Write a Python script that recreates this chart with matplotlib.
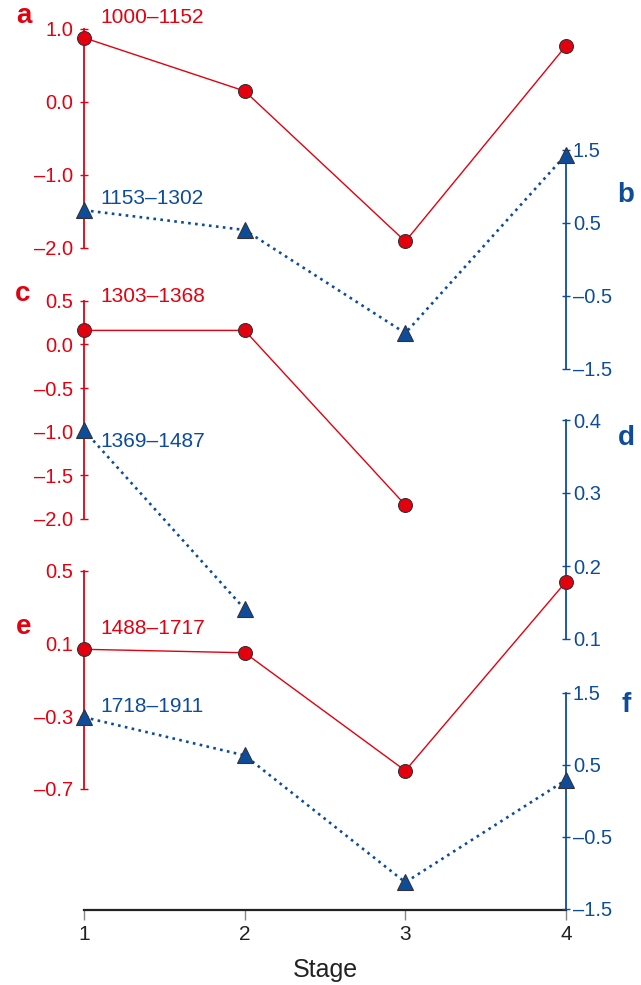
import numpy as np
import matplotlib.pyplot as plt

plt.rcParams['font.family'] = ['Liberation Sans', 'DejaVu Sans']

stages = [1, 2, 3, 4]

# red series (left axes) and blue series (right axes)
a_vals = [0.88, 0.15, -1.91, 0.77]
b_vals = [0.67, 0.40, -1.01, 1.43]
c_vals = [0.16, 0.16, -1.84, np.nan]
d_vals = [0.386, 0.141, np.nan, np.nan]
e_vals = [0.069, 0.05, -0.599, 0.441]
f_vals = [1.16, 0.63, -1.13, 0.29]

a_ticks = [1.0, 0.0, -1.0, -2.0]
b_ticks = [1.5, 0.5, -0.5, -1.5]
c_ticks = [0.5, 0.0, -0.5, -1.0, -1.5, -2.0]
d_ticks = [0.4, 0.3, 0.2, 0.1]
e_ticks = [0.5, 0.1, -0.3, -0.7]
f_ticks = [1.5, 0.5, -0.5, -1.5]

periods = ['1000–1152', '1153–1302', '1303–1368', '1369–1487', '1488–1717', '1718–1911']
letters = ['a', 'b', 'c', 'd', 'e', 'f']

RED = '#e3000f'
BLUE = '#0d4c9b'

W, H = 641, 985
X0, X1, YB = 84, 566, 910


def fx(px):
    return px / W


def fy(py):
    return 1 - py / H


fig = plt.figure(figsize=(W / 100, H / 100), dpi=100)
rect = [fx(X0), fy(YB), fx(X1) - fx(X0), YB / H]

# base axes carries the stage axis
base = fig.add_axes(rect, facecolor='none')
base.set_xlim(1, 4)
base.set_ylim(0, 1)
for s in ['top', 'left', 'right']:
    base.spines[s].set_visible(False)
base.spines['bottom'].set_linewidth(1.6)
base.spines['bottom'].set_color('#222222')
base.set_yticks([])
base.set_xticks(stages)
base.tick_params(axis='x', direction='out', length=7, width=1, color='#888888',
                 labelcolor='#222222', labelsize=15, pad=4)
base.set_xlabel('Stage', fontsize=18, color='#222222', labelpad=10)


def panel(vals, ticks, top_px, bot_px, side, color, marker, ls, lw):
    ax = fig.add_axes(rect, facecolor='none')
    k = (ticks[0] - ticks[-1]) / (bot_px - top_px)
    ax.set_ylim(ticks[-1] - (YB - bot_px) * k, ticks[0] + top_px * k)
    ax.set_xlim(1, 4)
    for s in ax.spines.values():
        s.set_visible(False)
    sp = ax.spines[side]
    sp.set_visible(True)
    sp.set_bounds(ticks[-1], ticks[0])
    sp.set_color(color)
    sp.set_linewidth(1.3)
    ax.yaxis.set_ticks_position(side)
    ax.set_yticks(ticks, [f'{t:.1f}'.replace('-', '–') for t in ticks])
    ax.tick_params(axis='y', direction='inout', length=6, width=1, colors=color,
                   labelsize=14.5, pad=5 if side == 'left' else 2)
    ax.set_xticks([])
    ax.plot(stages, vals, color=color, ls=ls, lw=lw, marker=marker,
            mfc=color, mec='#333333', mew=0.8, ms=10 if marker == 'o' else 11.5,
            clip_on=False, zorder=3)
    return ax


panel(a_vals, a_ticks, 29, 248, 'left', RED, 'o', '-', 1.0)
panel(b_vals, b_ticks, 149.5, 369, 'right', BLUE, '^', ':', 1.9)
panel(c_vals, c_ticks, 300.7, 519, 'left', RED, 'o', '-', 1.0)
panel(d_vals, d_ticks, 420, 639, 'right', BLUE, '^', ':', 1.9)
panel(e_vals, e_ticks, 571, 789, 'left', RED, 'o', '-', 1.0)
panel(f_vals, f_ticks, 692.7, 909, 'right', BLUE, '^', ':', 1.9)

# series labels
label_y = [17.5, 199, 296, 441.7, 628, 706]
for i, (txt, py) in enumerate(zip(periods, label_y)):
    fig.text(fx(100), fy(py), txt, color=RED if i % 2 == 0 else BLUE,
             fontsize=15, ha='left', va='center')

# panel letters
letter_pos = [(24, 16), (626, 195), (23, 294), (626, 438), (24, 627), (626, 705)]
for i, (ch, (px, py)) in enumerate(zip(letters, letter_pos)):
    fig.text(fx(px), fy(py), ch, color=RED if i % 2 == 0 else BLUE,
             fontsize=20, fontweight='bold', ha='center', va='center')

fig.savefig('out.png', dpi=100)
